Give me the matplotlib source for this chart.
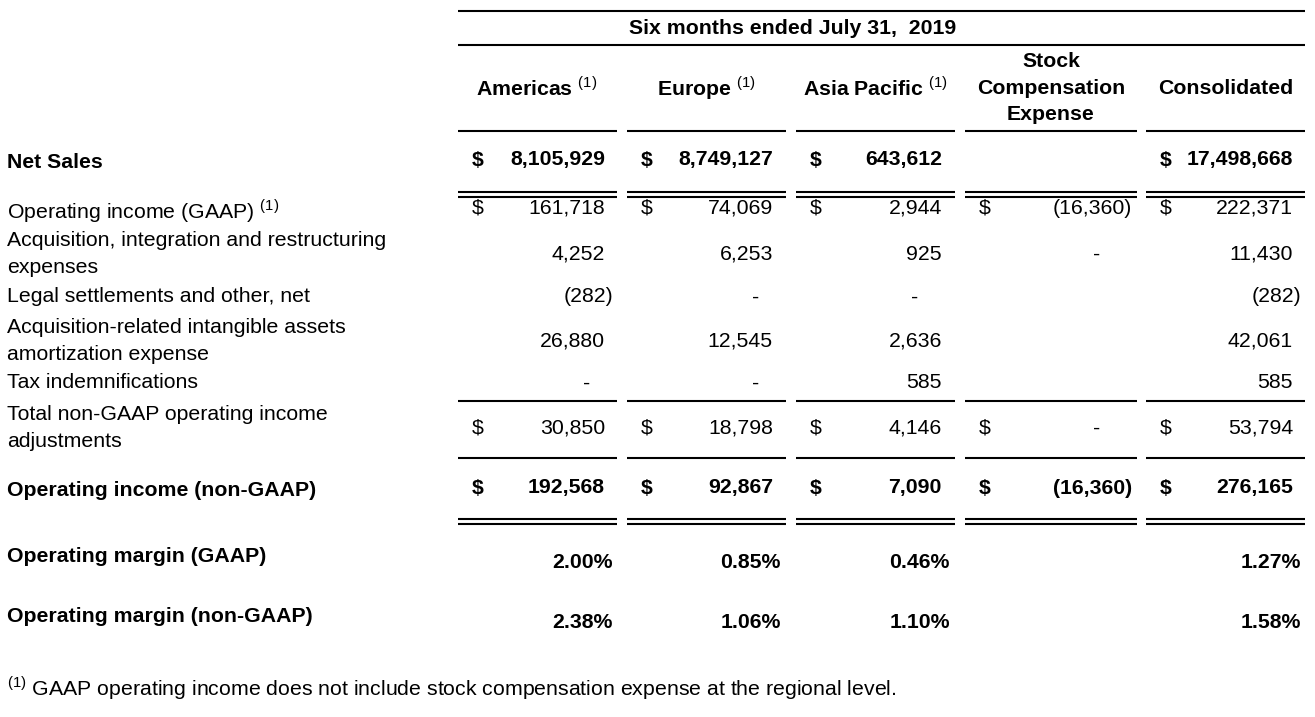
import matplotlib.pyplot as plt

plt.rcParams['font.family'] = ['Liberation Sans', 'DejaVu Sans']
plt.rcParams['mathtext.fontset'] = 'custom'
plt.rcParams['mathtext.rm'] = 'Liberation Sans'
plt.rcParams['mathtext.bf'] = 'Liberation Sans:bold'

# table data (thousands of $, margins in %)
columns = ['Americas $^{(1)}$', 'Europe $^{(1)}$', 'Asia Pacific $^{(1)}$',
           'Stock\nCompensation\nExpense', 'Consolidated']
period = 'Six months ended July 31,  2019'

net_sales = [8105929, 8749127, 643612, None, 17498668]
op_income_gaap = [161718, 74069, 2944, -16360, 222371]
acq_integration = [4252, 6253, 925, 0, 11430]
legal_settlements = [-282, 0, 0, None, -282]
intangible_amort = [26880, 12545, 2636, None, 42061]
tax_indemnifications = [0, 0, 585, None, 585]
total_adjustments = [30850, 18798, 4146, 0, 53794]
op_income_nongaap = [192568, 92867, 7090, -16360, 276165]
margin_gaap = [2.00, 0.85, 0.46, None, 1.27]
margin_nongaap = [2.38, 1.06, 1.10, None, 1.58]

footnote = 'GAAP operating income does not include stock compensation expense at the regional level.'

fig = plt.figure(figsize=(13.15, 7.17), dpi=100)
ax = fig.add_axes([0, 0, 1, 1])
ax.set_xlim(0, 1315)
ax.set_ylim(717, 0)
ax.axis('off')

FS = 15.3
LS = 1.5
seg = [(458, 617), (627, 786), (796, 955), (965, 1137), (1146, 1305)]
dollar_x = [472, 641, 810, 979, 1160]
right_x = [605, 773, 942, 1124, 1293]
dash_x = [587, 756, 915, 1097, 1275]


def fmt(v):
    if v is None:
        return None
    if v == 0:
        return '-'
    if v < 0:
        return '({:,})'.format(-v)
    return '{:,}'.format(v)


def hline(y, lw=1.5, full=False):
    if full:
        ax.plot([458, 1305], [y, y], color='black', lw=lw, solid_capstyle='butt')
    else:
        for a, b in seg:
            ax.plot([a, b], [y, y], color='black', lw=lw, solid_capstyle='butt')


def value_row(vals, y, bold=False, dollars=None):
    w = 'bold' if bold else 'normal'
    for i, v in enumerate(vals):
        s = fmt(v)
        if s is None:
            continue
        if dollars and dollars[i]:
            ax.text(dollar_x[i], y, '$', fontsize=FS, weight=w, va='center',
                    ha='left', parse_math=False)
        if s == '-':
            ax.text(dash_x[i], y, s, fontsize=FS, weight=w, va='center', ha='center')
        elif s.endswith(')'):
            ax.text(right_x[i] + 8, y, s, fontsize=FS, weight=w, va='center', ha='right')
        else:
            ax.text(right_x[i], y, s, fontsize=FS, weight=w, va='center', ha='right')


def label(text, y, bold=False):
    ax.text(7, y, text, fontsize=FS, weight='bold' if bold else 'normal',
            va='center', ha='left', linespacing=LS)


# header
hline(11, full=True)
ax.text(793, 28, period, fontsize=FS, weight='bold', ha='center', va='center')
hline(45, full=True)
head_x = [537, 706, 875, 1051, 1226]
for x, c in zip(head_x, columns):
    ax.text(x, 88, c, fontsize=FS, weight='bold', ha='center', va='center',
            linespacing=LS)
hline(131)

# net sales
label('Net Sales', 163, bold=True)
value_row(net_sales, 160, bold=True, dollars=[1, 1, 1, 0, 0])
ax.text(1160, 160, '$', fontsize=FS, weight='bold', va='center', ha='left',
        parse_math=False)
hline(192)
hline(196.5)

label('Operating income (GAAP) $^{(1)}$', 211)
value_row(op_income_gaap, 208, dollars=[1, 1, 1, 1, 1])
label('Acquisition, integration and restructuring\nexpenses', 254)
value_row(acq_integration, 254)
label('Legal settlements and other, net', 297)
value_row(legal_settlements, 297)
label('Acquisition-related intangible assets\namortization expense', 341)
value_row(intangible_amort, 341)
label('Tax indemnifications', 383)
value_row(tax_indemnifications, 383)
hline(401)

label('Total non-GAAP operating income\nadjustments', 428)
value_row(total_adjustments, 428, dollars=[1, 1, 1, 1, 1])
hline(458)

label('Operating income (non-GAAP)', 491, bold=True)
value_row(op_income_nongaap, 488, bold=True, dollars=[1, 1, 1, 1, 1])
hline(519)
hline(523.5)

label('Operating margin (GAAP)', 557, bold=True)
label('Operating margin (non-GAAP)', 616, bold=True)
for vals, y in [(margin_gaap, 562), (margin_nongaap, 622)]:
    for i, v in enumerate(vals):
        if v is None:
            continue
        ax.text(right_x[i] + 8, y, '{:.2f}%'.format(v), fontsize=FS,
                weight='bold', ha='right', va='center')

ax.text(7, 688, '$^{(1)}$ ' + footnote, fontsize=FS, ha='left', va='center')

plt.savefig('out.png', dpi=100)
